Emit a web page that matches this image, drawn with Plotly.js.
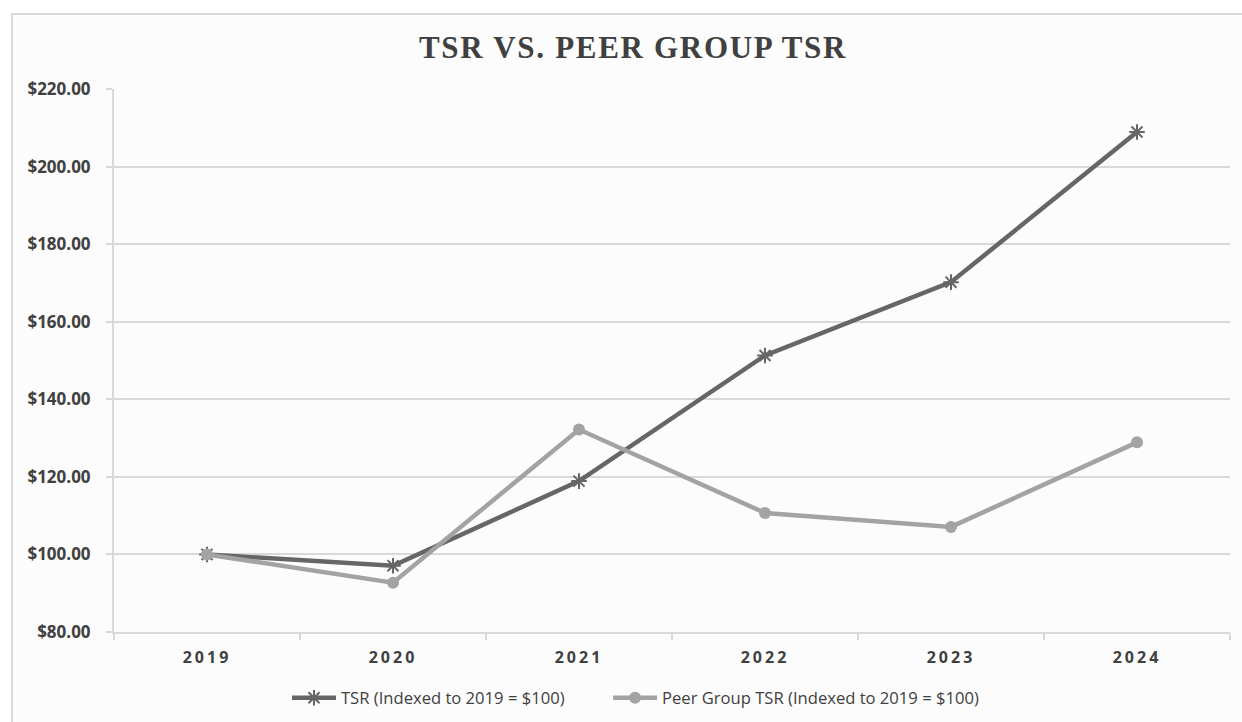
<!DOCTYPE html>
<html>
<head>
<meta charset="utf-8">
<script src="https://cdn.plot.ly/plotly-3.0.1.min.js"></script>
<style>
  html, body { margin: 0; padding: 0; background: #ffffff; overflow: hidden; }
  #chart { position: absolute; left: 11px; top: 13px; width: 1240px; height: 720px;
           border: 2px solid #d9d9d9; background: #fcfcfc; }
  .gtitle { letter-spacing: 1.7px; }
  .xtick text { letter-spacing: 3px; }
</style>
</head>
<body>
<div id="chart"></div>
<script>
const years = ['2019', '2020', '2021', '2022', '2023', '2024'];
const tsrValues = [100.0, 97.1, 118.9, 151.3, 170.2, 208.9];
const peerValues = [100.0, 92.7, 132.2, 110.7, 107.1, 128.9];
const tsrName = 'TSR (Indexed to 2019 = $100)';
const peerName = 'Peer Group TSR (Indexed to 2019 = $100)';
const chartTitle = 'TSR VS. PEER GROUP TSR';

const traces = [
  {
    x: years, y: tsrValues, name: tsrName, type: 'scatter', mode: 'lines+markers',
    legend: 'legend',
    line: { color: '#666666', width: 4.5 },
    marker: { symbol: 'asterisk', size: 13, color: '#666666', line: { color: '#666666', width: 2 } }
  },
  {
    x: years, y: peerValues, name: peerName, type: 'scatter', mode: 'lines+markers',
    legend: 'legend2',
    line: { color: '#a3a3a3', width: 4.5 },
    marker: { symbol: 'circle', size: 12, color: '#a3a3a3' }
  }
];

const legendFont = { family: 'Open Sans, sans-serif', size: 16.6, color: '#404040' };

const layout = {
  width: 1240, height: 720,
  autosize: false,
  margin: { l: 101, r: 23, t: 74, b: 103, autoexpand: false },
  paper_bgcolor: '#fcfcfc', plot_bgcolor: '#fcfcfc',
  title: {
    text: '<b>' + chartTitle + '</b>',
    font: { family: 'Liberation Serif, serif', size: 31, color: '#404040' },
    x: 0.5, xref: 'container', xanchor: 'center',
    y: 0.955, yref: 'container', yanchor: 'middle'
  },
  showlegend: true,
  legend: {
    orientation: 'h', x: 0.155, xanchor: 'left',
    y: -0.1215, yanchor: 'middle',
    font: legendFont, itemwidth: 44, bgcolor: 'rgba(0,0,0,0)'
  },
  legend2: {
    orientation: 'h', x: 0.4427, xanchor: 'left',
    y: -0.1215, yanchor: 'middle',
    font: legendFont, itemwidth: 44, bgcolor: 'rgba(0,0,0,0)'
  },
  xaxis: {
    type: 'category', range: [-0.5, 5.5],
    showgrid: false, showline: true, linecolor: '#d9d9d9', linewidth: 2,
    ticks: 'outside', tickson: 'boundaries', ticklen: 6, tickcolor: '#d9d9d9', tickwidth: 2,
    tickfont: { family: 'Open Sans, sans-serif', size: 16, color: '#404040', weight: 'bold' },
    ticklabelstandoff: 10,
    fixedrange: true
  },
  yaxis: {
    range: [80, 220], dtick: 20, tick0: 80,
    tickprefix: '$', tickformat: ',.2f',
    showgrid: true, gridcolor: '#d9d9d9', gridwidth: 2,
    showline: true, linecolor: '#d9d9d9', linewidth: 2,
    ticks: 'outside', ticklen: 6, tickcolor: '#d9d9d9', tickwidth: 2,
    tickfont: { family: 'Open Sans, sans-serif', size: 17, color: '#404040', weight: 'bold' },
    ticklabelstandoff: 12,
    zeroline: false, fixedrange: true
  }
};

Plotly.newPlot('chart', traces, layout, { displayModeBar: false, staticPlot: true });
</script>
</body>
</html>
